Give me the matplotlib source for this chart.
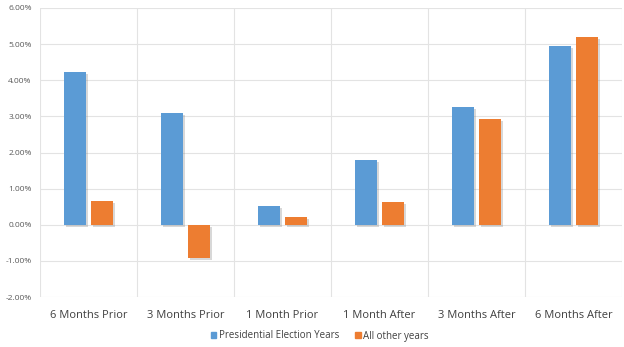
import numpy as np
import matplotlib
matplotlib.use("Agg")
import matplotlib.pyplot as plt
import matplotlib.patheffects as pe
from matplotlib.patches import Patch
from matplotlib.ticker import FuncFormatter, MultipleLocator

plt.rcParams['font.family'] = ['Open Sans', 'DejaVu Sans']

categories = ["6 Months Prior", "3 Months Prior", "1 Month Prior",
              "1 Month After", "3 Months After", "6 Months After"]
election_years = [4.22, 3.09, 0.53, 1.80, 3.26, 4.94]
other_years = [0.66, -0.93, 0.21, 0.64, 2.93, 5.19]

blue = "#5B9BD5"
orange = "#ED7D31"

fig = plt.figure(figsize=(6.24, 3.47), dpi=100)
ax = fig.add_axes([40 / 624, 50 / 347, 582 / 624, 289 / 347])

x = np.arange(len(categories))
w = 0.22
shadow = [pe.SimplePatchShadow(offset=(1.5, -1.5), shadow_rgbFace="#808080", alpha=0.3), pe.Normal()]
b1 = ax.bar(x - 0.14, election_years, w, color=blue, zorder=3)
b2 = ax.bar(x + 0.14, other_years, w, color=orange, zorder=3)
for bars in (b1, b2):
    for r in bars:
        r.set_path_effects(shadow)

ax.set_xlim(-0.5, len(categories) - 0.5)
ax.set_ylim(-2, 6)
ax.yaxis.set_major_locator(MultipleLocator(1))
ax.yaxis.set_major_formatter(FuncFormatter(lambda v, p: f"{v:.2f}%"))
ax.set_xticks(x)
ax.set_xticklabels(categories, fontsize=8, color="#404040")
ax.set_xticks(np.arange(len(categories) + 1) - 0.5, minor=True)
ax.tick_params(axis="y", labelsize=6, labelcolor="#595959", length=0, pad=6)
ax.tick_params(axis="x", which="both", length=0, pad=9)
ax.grid(axis="y", which="major", color="#E3E3E3", lw=0.8, zorder=0)
ax.grid(axis="x", which="minor", color="#E3E3E3", lw=0.8, zorder=0)
ax.grid(axis="x", which="major", visible=False)
for s in ax.spines.values():
    s.set_visible(False)

handles = [Patch(color=blue, label="Presidential Election Years"),
           Patch(color=orange, label="All other years")]
fig.legend(handles=handles, loc="center", bbox_to_anchor=(320 / 624, 11 / 347),
           ncol=2, frameon=False, fontsize=7, handlelength=0.55, handleheight=0.55,
           columnspacing=1.6, handletextpad=0.3, labelcolor="#404040")

fig.savefig("out.png", dpi=100)
